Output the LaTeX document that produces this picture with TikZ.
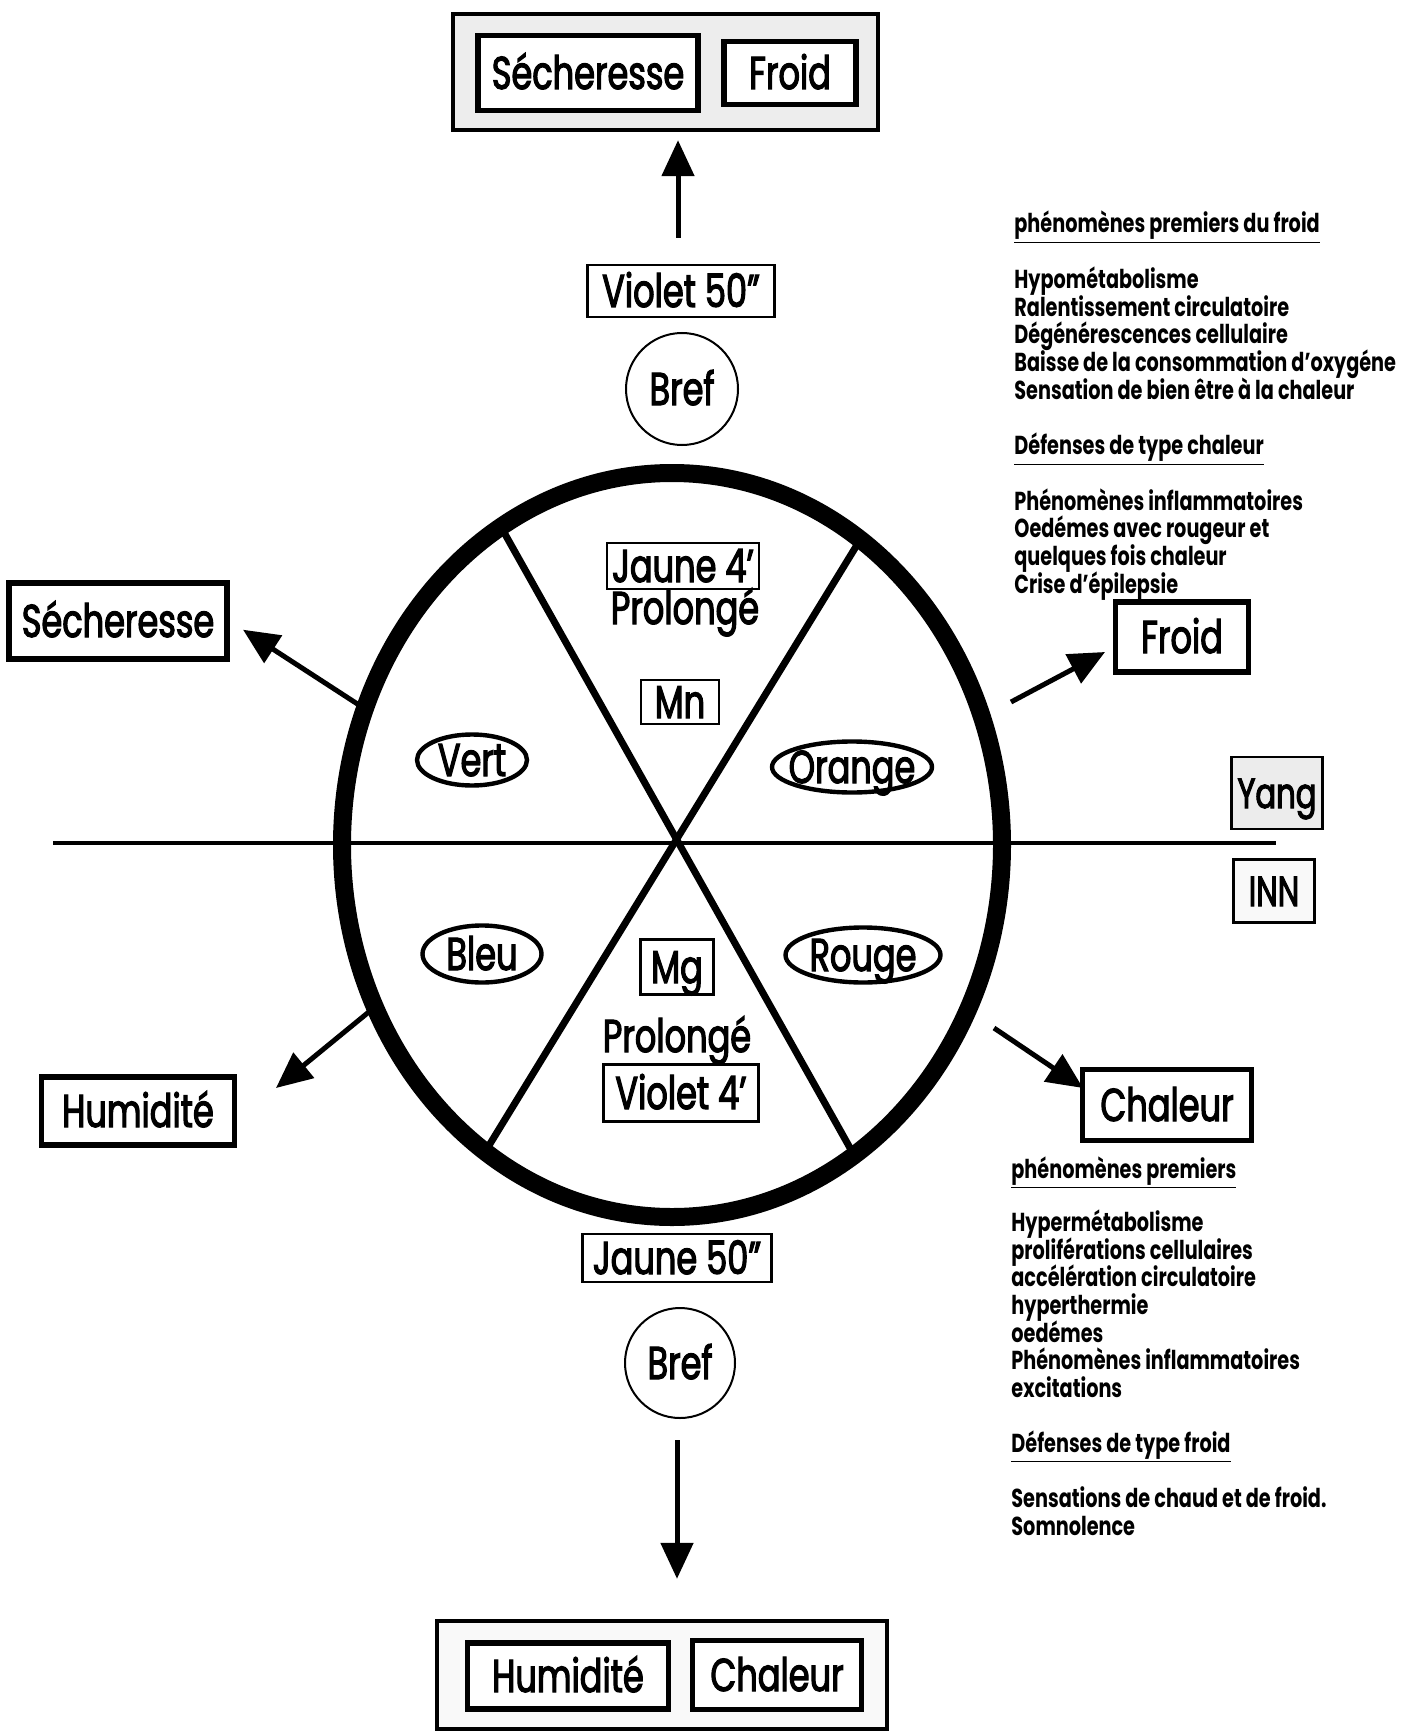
\documentclass[tikz,border=0pt]{standalone}
\usepackage{fontspec}
\setmainfont{Poppins}[FakeStretch=0.74]
\newfontfamily\labfont{Poppins}[FakeStretch=0.73, FakeBold=2.5]
\usetikzlibrary{arrows.meta}
\begin{document}
\begin{tikzpicture}[x=0.5pt,y=-0.5pt,
  lab/.style={font=\labfont\fontsize{23}{25}\selectfont, inner sep=0pt, text height=16pt, text depth=0pt},
  thinbox/.style={lab, draw, line width=1.2pt, fill=white},
  thickbox/.style={lab, draw, line width=2.6pt, fill=white},
  outerbox/.style={draw, line width=2.2pt, inner sep=0pt},
  bref/.style={lab, draw, circle, line width=1pt},
  ovalline/.style={line width=2.2pt},
  arr/.style={line width=2.5pt, -{Triangle[length=18pt,width=16pt]}},
  side/.style={anchor=base west, inner sep=0pt, font=\bfseries\fontsize{13}{14}\selectfont},
]
\useasboundingbox (0,0) rectangle (1412,1733);

% ---------- central wheel ----------
\coordinate (c) at (672,845);
\coordinate (ul) at (501,527);
\coordinate (lr) at (854,1155);
\coordinate (ur) at (860,540);
\coordinate (ll) at (485,1152);
\coordinate (hl) at (53,843);
\coordinate (hr) at (1276,843);
\draw[line width=3.5pt] (ul) -- (lr);
\draw[line width=3.5pt] (ur) -- (ll);
\draw[line width=2pt] (hl) -- (hr);
\draw[line width=9pt] (c) ellipse [x radius=165pt, y radius=186pt];

% ---------- inside labels ----------
\node[thinbox, minimum width=76pt, minimum height=23pt] (j4) at (683,566) {Jaune 4’};
\node[lab] (p1) at (685,608) {Prolongé};
\node[thinbox, minimum width=39pt, minimum height=22pt] (mn) at (680,702) {Mn};
\node[lab] (vert) at (472,760) {Vert};
\draw[ovalline] (vert.center) ellipse [x radius=27.5pt, y radius=12.75pt];
\node[lab] (orange) at (852,767) {Orange};
\draw[ovalline] (orange.center) ellipse [x radius=40pt, y radius=12.75pt];
\node[lab] (bleu) at (482,954) {Bleu};
\draw[ovalline] (bleu.center) ellipse [x radius=29.75pt, y radius=14.25pt];
\node[lab] (rouge) at (863,955) {Rouge};
\draw[ovalline] (rouge.center) ellipse [x radius=38.75pt, y radius=13.75pt];
\node[thinbox, minimum width=36.5pt, minimum height=27.5pt] (mg) at (677,967) {Mg};
\node[lab] (p2) at (677,1036) {Prolongé};
\node[thinbox, minimum width=77.5pt, minimum height=28.5pt] (v4) at (681,1093) {Violet 4’};

% ---------- top ----------
\node[outerbox, fill=gray!14, minimum width=212.5pt, minimum height=58pt] (topbox) at (665.5,72) {};
\node[thickbox, minimum width=110pt, minimum height=37.5pt] (sectop) at (588,73) {Sécheresse};
\node[thickbox, minimum width=66pt, minimum height=31.5pt] (froidtop) at (790,73) {Froid};
\node[thinbox, minimum width=93.5pt, minimum height=26pt] (v50) at (681,291) {Violet 50”};
\node[bref, minimum size=56pt] (breftop) at (682,389) {Bref};
\coordinate (a1) at (678,238);
\draw[arr, shorten >=4pt] (a1) -- (a1 |- topbox.south);

% ---------- bottom ----------
\node[thinbox, minimum width=94.5pt, minimum height=24pt] (j50) at (677,1258) {Jaune 50”};
\node[bref, minimum size=55pt] (brefbot) at (680,1363) {Bref};
\node[outerbox, fill=gray!5, minimum width=225pt, minimum height=54pt] (botbox) at (662,1675) {};
\node[thickbox, minimum width=100.5pt, minimum height=33pt] (humbot) at (568,1676) {Humidité};
\node[thickbox, minimum width=84.5pt, minimum height=34.5pt] (chalbot) at (777,1675) {Chaleur};
\coordinate (a2) at (677,1440);
\draw[arr, shorten >=20pt] (a2) -- (a2 |- botbox.north);

% ---------- left ----------
\node[thickbox, minimum width=109pt, minimum height=38pt] (secL) at (118,621) {Sécheresse};
\coordinate (a3) at (359,705);
\draw[arr, shorten >=8pt] (a3) -- (secL.east);
\node[thickbox, minimum width=96.5pt, minimum height=34pt] (humL) at (138,1111) {Humidité};
\coordinate (a4) at (370,1011);
\coordinate (t4) at (276,1088);
\draw[arr] (a4) -- (t4);

% ---------- right ----------
\node[thickbox, minimum width=66.5pt, minimum height=35pt] (froidR) at (1182,637) {Froid};
\coordinate (a5) at (1011,702);
\coordinate (t5) at (1105,652);
\draw[arr] (a5) -- (t5);
\node[thickbox, minimum width=84.5pt, minimum height=35.5pt] (chalR) at (1167,1105) {Chaleur};
\coordinate (a6) at (994,1028);
\coordinate (t6) at (1083,1088);
\draw[arr] (a6) -- (t6);

\node[lab, draw, line width=1.4pt, fill=gray!15, font=\labfont\fontsize{21}{23}\selectfont, text height=15pt, minimum width=45.5pt, minimum height=36pt] (yang) at (1277,793) {Yang};
\node[lab, draw, line width=1.2pt, fill=gray!5, font=\labfont\fontsize{21}{23}\selectfont, text height=15pt, minimum width=40.5pt, minimum height=31.5pt] (inn) at (1274,891) {INN};

% ---------- side texts ----------
\foreach \k/\t [count=\i] in {
  0/{\underline{phénomènes premiers du froid}},
  2/{Hypométabolisme},
  3/{Ralentissement circulatoire},
  4/{Dégénérescences cellulaire},
  5/{Baisse de la consommation d’oxygéne},
  6/{Sensation de bien être à la chaleur},
  8/{\underline{Défenses de type chaleur}},
  10/{Phénomènes inflammatoires},
  11/{Oedémes avec rougeur et},
  12/{quelques fois chaleur},
  13/{Crise d’épilepsie}}
  \node[side] (ta\i) at (1014,{233+27.7*\k}) {\t};

\foreach \y/\t [count=\i] in {
  1178/{\underline{phénomènes premiers}},
  1231/{Hypermétabolisme},
  1259/{proliférations cellulaires},
  1286/{accélération circulatoire},
  1314/{hyperthermie},
  1342/{oedémes},
  1369/{Phénomènes inflammatoires},
  1397/{excitations},
  1452/{\underline{Défenses de type froid}},
  1507/{Sensations de chaud et de froid.},
  1535/{Somnolence}}
  \node[side] (tb\i) at (1011,\y) {\t};
\end{tikzpicture}
\end{document}
